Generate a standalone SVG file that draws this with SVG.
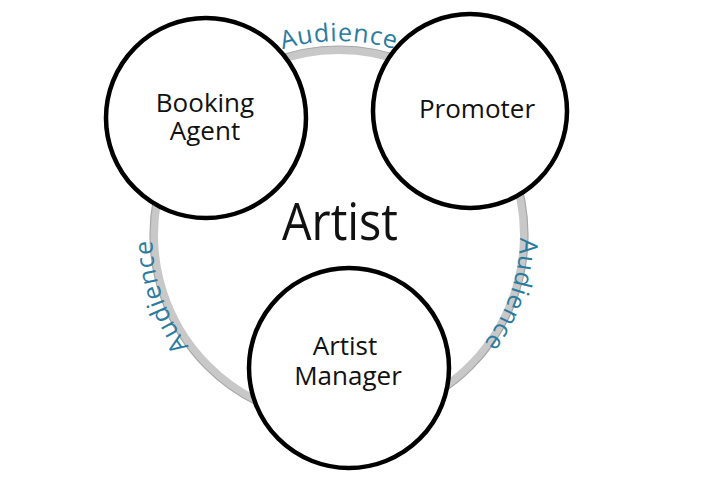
<svg xmlns="http://www.w3.org/2000/svg" xmlns:xlink="http://www.w3.org/1999/xlink" width="705" height="477" viewBox="0 0 705 477">
<style>
.node{fill:#ffffff;stroke:#000000;stroke-width:4.5}
.lbl{font-family:"Open Sans","Noto Sans",sans-serif;font-size:26px;fill:#111111;text-anchor:middle}
.aud{font-family:"Open Sans","Noto Sans",sans-serif;font-size:25px;fill:#2a7ba0;letter-spacing:0.8px}
</style>
<defs>
<path id="pTop" d="M171,138 A194,194 0 0 1 507,138"/>
<path id="pLeft" d="M303.7,416.6 A183,183 0 0 1 199.4,113.6"/>
<path id="pRight" d="M475.6,116.2 A181,181 0 0 1 373.5,412.7"/>
</defs>
<rect width="705" height="477" fill="#ffffff"/>
<g id="connectors">
<circle cx="339" cy="235" r="185" fill="none" stroke="#c8c8c8" stroke-width="8"/>
<circle cx="339" cy="235" r="189" fill="none" stroke="#a8a8a8" stroke-width="1.2"/>
<text class="aud"><textPath xlink:href="#pTop" href="#pTop" startOffset="50%" text-anchor="middle">Audience</textPath></text>
<text class="aud"><textPath xlink:href="#pLeft" href="#pLeft" startOffset="50%" text-anchor="middle">Audience</textPath></text>
<text class="aud"><textPath xlink:href="#pRight" href="#pRight" startOffset="50%" text-anchor="middle">Audience</textPath></text>
</g>
<g id="artist">
<text x="340" y="240" font-family="'Open Sans','Noto Sans',sans-serif" font-size="51" fill="#111111" text-anchor="middle" textLength="116" lengthAdjust="spacingAndGlyphs">Artist</text>
</g>
<g id="booking-agent">
<circle class="node" cx="206" cy="118" r="100"/>
<text class="lbl" x="205" y="112">Booking</text>
<text class="lbl" x="205" y="140">Agent</text>
</g>
<g id="promoter">
<circle class="node" cx="470" cy="111" r="97"/>
<text class="lbl" x="477" y="118">Promoter</text>
</g>
<g id="artist-manager">
<circle class="node" cx="349" cy="368" r="100"/>
<text class="lbl" x="345" y="355">Artist</text>
<text class="lbl" x="348" y="385">Manager</text>
</g>
</svg>
